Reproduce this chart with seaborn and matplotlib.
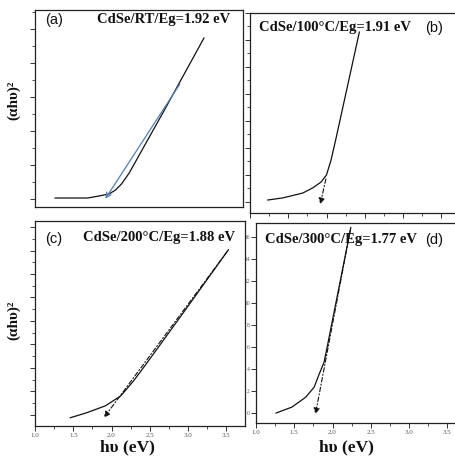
import numpy as np
import matplotlib.pyplot as plt
import seaborn as sns
from matplotlib.ticker import MultipleLocator, NullFormatter

sns.set_theme(style='ticks')
plt.rcParams['font.family'] = ['Liberation Serif', 'DejaVu Serif']
plt.rcParams['axes.edgecolor'] = '#222222'
plt.rcParams['axes.linewidth'] = 0.9

W, H = 455, 457

# --- data (hv in eV, (ahv)^2 in arbitrary units) ---
# (a) CdSe / RT
hv_a = [1.26, 1.69, 1.84, 1.97, 2.05, 2.13, 2.23, 2.70, 3.21]
ah_a = [0.03, 0.03, 0.09, 0.15, 0.26, 0.44, 0.76, 2.65, 4.74]
# (b) CdSe / 100 C
hv_b = [1.23, 1.43, 1.69, 1.82, 1.93, 2.00, 2.06, 2.12, 2.43]
ah_b = [0.07, 0.15, 0.33, 0.52, 0.74, 1.00, 1.56, 2.30, 6.30]
# (c) CdSe / 200 C
hv_c = [1.46, 1.68, 1.92, 2.12, 2.29, 2.45, 2.91, 3.53]
ah_c = [-0.13, 0.09, 0.38, 0.80, 1.45, 2.15, 4.22, 7.04]
# (d) CdSe / 300 C
hv_d = [1.26, 1.47, 1.65, 1.76, 1.82, 1.89, 1.93, 2.24]
ah_d = [0.0, 0.55, 1.45, 2.36, 3.45, 4.64, 6.0, 16.9]

labels = ['CdSe/RT/Eg=1.92 eV', 'CdSe/100°C/Eg=1.91 eV',
          'CdSe/200°C/Eg=1.88 eV', 'CdSe/300°C/Eg=1.77 eV']
eg = [1.92, 1.91, 1.88, 1.77]
# start of the extrapolation line (hv, (ahv)^2)
fit_start = [(2.91, 3.44), (2.00, 0.95), (3.53, 7.04), (2.24, 16.9)]

ylims = [(-0.235, 5.56), (-0.41, 7.0), (-0.48, 8.26), (-0.9, 17.3)]

def box(x0, y0, x1, y1):
    return [x0 / W, 1 - y1 / H, (x1 - x0) / W, (y1 - y0) / H]

fig = plt.figure(figsize=(W / 100, H / 100), dpi=100)
ax_a = fig.add_axes(box(35, 10, 243, 207))
ax_b = fig.add_axes(box(250, 13, 462, 213))
ax_c = fig.add_axes(box(35, 221, 245, 426))
ax_d = fig.add_axes(box(256, 223, 462, 423))
axes = [ax_a, ax_b, ax_c, ax_d]
data = [(hv_a, ah_a), (hv_b, ah_b), (hv_c, ah_c), (hv_d, ah_d)]

for i, ax in enumerate(axes):
    x, y = data[i]
    sns.lineplot(x=x, y=y, ax=ax, color='#111111', lw=0.9, sort=False)
    ax.set_xlim(1.0, 1.0 + (ax.get_position().width * W) / 76.5)
    ax.set_ylim(*ylims[i])
    ax.set_xlabel('')
    ax.set_ylabel('')
    ax.tick_params(axis='both', which='major', length=3.5, width=0.7,
                   color='#333333', labelsize=5, labelcolor='#555555', pad=1.5)
    ax.tick_params(axis='both', which='minor', length=2, width=0.6, color='#333333')
    # extrapolation arrow
    x0, y0 = fit_start[i]
    tip = ylims[i][0] + 0.03 * (ylims[i][1] - ylims[i][0])
    if i == 0:
        ax.annotate('', xy=(eg[i] - 0.02, tip), xytext=(x0, y0),
                    arrowprops=dict(arrowstyle='->', color='#4f7fc0', lw=0.9,
                                    mutation_scale=9))
    else:
        ax.annotate('', xy=(eg[i], tip), xytext=(x0, y0),
                    arrowprops=dict(arrowstyle='-|>', color='#111111', lw=0.8,
                                    linestyle=(0, (4, 2, 1, 2)),
                                    mutation_scale=9))

# y ticks
for ax in [ax_a, ax_b, ax_c]:
    ax.yaxis.set_major_locator(MultipleLocator(1))
    ax.yaxis.set_minor_locator(MultipleLocator(0.5))
    ax.yaxis.set_major_formatter(NullFormatter())
ax_d.set_yticks(range(0, 17, 2), [str(v) for v in range(0, 17, 2)])
ax_d.tick_params(axis='y', labelsize=4, pad=1)

# x ticks
ax_a.set_xticks([])
for ax in [ax_b, ax_c, ax_d]:
    ax.xaxis.set_major_locator(MultipleLocator(0.5))
    ax.xaxis.set_minor_locator(MultipleLocator(0.25))
ax_b.xaxis.set_major_formatter(NullFormatter())
for ax in [ax_c, ax_d]:
    ax.set_xticks(np.arange(1.0, 3.6, 0.5), ['1.0', '1.5', '2.0', '2.5', '3.0', '3.5'])

for ax in [ax_b, ax_d]:
    ax.spines['right'].set_visible(False)

# texts
def ftext(x, y, s, **kw):
    fig.text(x / W, 1 - y / H, s, va='center', **kw)

bold = dict(fontweight='bold', fontsize=10.5, color='#111111')
sans = dict(family=['Liberation Sans', 'DejaVu Sans'], fontsize=10.5, color='#111111')
ftext(45, 20, '(a)', **sans)
ftext(97, 20, labels[0], **bold)
ftext(259, 28, labels[1], **bold)
ftext(425, 28, '(b)', **sans)
ftext(45, 239, '(c)', **sans)
ftext(83, 238, labels[2], **bold)
ftext(265, 240, labels[3], **bold)
ftext(425, 240, '(d)', **sans)

ylab = dict(fontweight='bold', fontsize=11, rotation=90, ha='center', color='#111111')
ftext(14, 100, '(αhυ)²', **ylab)
ftext(14, 320, '(αhυ)²', **ylab)
xlab = dict(fontweight='bold', fontsize=12.5, ha='center', color='#111111')
ftext(127, 447, 'hυ (eV)', **xlab)
ftext(346, 447, 'hυ (eV)', **xlab)

fig.savefig('out.png', dpi=100, facecolor='white')
